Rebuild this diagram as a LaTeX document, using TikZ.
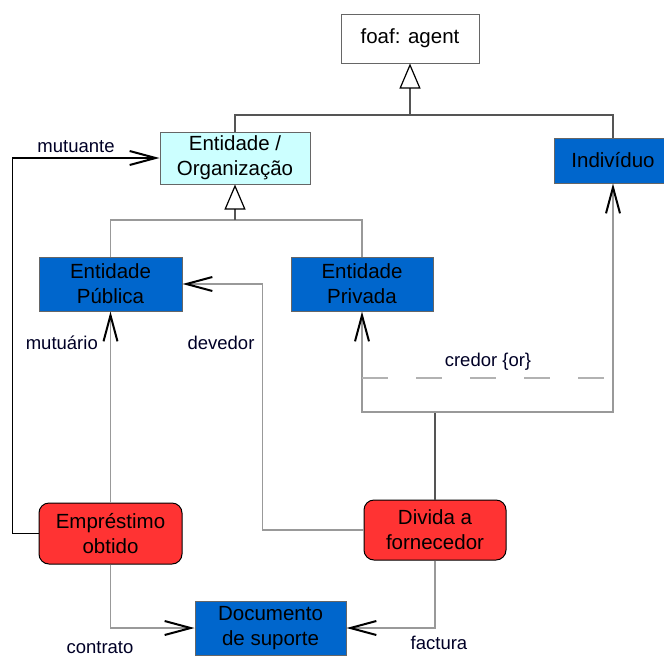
\documentclass[tikz,border=0pt]{standalone}
\usepackage{fontspec}
\setmainfont{Liberation Sans}
\usetikzlibrary{arrows.meta}
\definecolor{cblue}{HTML}{0066CC}
\definecolor{cred}{HTML}{FF3333}
\definecolor{ccyan}{HTML}{CCFFFF}
\definecolor{lgray}{HTML}{999999}
\definecolor{dgray}{HTML}{555555}
\tikzset{cls/.style = {draw=black!60, line width=1, inner sep=0, align=center,
                       font=\fontsize{20.5}{25}\selectfont}}
\tikzset{act/.style = {cls, fill=cred, draw=black, rounded corners=10}}
\tikzset{lbl/.style = {inner sep=0, text=black!85!blue, font=\fontsize{18.5}{20}\selectfont}}
\tikzset{assoc/.style = {line width=1.5, lgray,
                         -{Straight Barb[length=26, width=14, line width=2, color=black]}}}
\tikzset{inherit/.style = {line width=1.5, dgray,
                           -{Triangle[open, length=25, width=21, line width=1.2, color=black]}}}

\begin{document}
\begin{tikzpicture}[x=1pt, y=-1pt]
  \useasboundingbox (0,0) rectangle (664,657);

  \node [cls, fill=white, minimum width=138, minimum height=49] (agent) at (410,38.5) {foaf: agent};
  \node [cls, fill=ccyan, minimum width=150, minimum height=52] (org) at (235,158) {Entidade /\\Organização};
  \node [cls, fill=cblue, minimum width=118, minimum height=45] (indiv) at (613,160.5) {Indivíduo};
  \node [cls, fill=cblue, minimum width=143, minimum height=54] (pub) at (110.5,284) {Entidade\\Pública};
  \node [cls, fill=cblue, minimum width=142, minimum height=54] (priv) at (362,284) {Entidade\\Privada};
  \node [act, minimum width=143, minimum height=61] (emp) at (110.5,533.5) {Empréstimo\\obtido};
  \node [act, minimum width=142, minimum height=60] (div) at (435,530) {Divida a\\fornecedor};
  \node [cls, fill=cblue, minimum width=151, minimum height=54] (doc) at (270.5,628) {Documento\\de suporte};

  % generalizations
  \coordinate (hubA) at (410,115);
  \coordinate (hubB) at (235,220);
  \draw [line width=1.5, dgray] (org.north) |- (hubA) -| (indiv.north);
  \draw [inherit] (hubA) -- (agent.south);
  \draw [line width=1.5, lgray] (pub.north) |- (hubB) -| (priv.north);
  \draw [inherit] (hubB) -- (org.south);

  % associations
  \draw [assoc, black] (emp.west) -- ++(-26,0) |- (org.west);
  \node [lbl] (mutuante) at (76,147) {mutuante};
  \draw [assoc] (emp.north) -- (pub.south);
  \node [lbl, anchor=east] (mutuario) at (98,343) {mutuário};
  \draw [assoc] (div.west) -- ++(-101,0) |- (pub.east);
  \node [lbl] (devedor) at (221,343) {devedor};
  \draw [assoc] (emp.south) |- (doc.west);
  \node [lbl] (contrato) at (100,648) {contrato};
  \draw [assoc] (div.south) |- (doc.east);
  \node [lbl] (factura) at (439,643) {factura};

  \coordinate (junc) at (435,412);
  \draw [line width=1.5, dgray] (div.north) -- (junc);
  \draw [assoc] (junc) -| (priv.south);
  \draw [assoc] (junc) -| (indiv.south);
  \coordinate (orL) at (362,378);
  \coordinate (orR) at (614,378);
  \draw [line width=2, black!30, dash pattern=on 26 off 28] (orL) -- (orR);
  \node [lbl] (credor) at (488,362) {credor \{or\}};
\end{tikzpicture}
\end{document}
